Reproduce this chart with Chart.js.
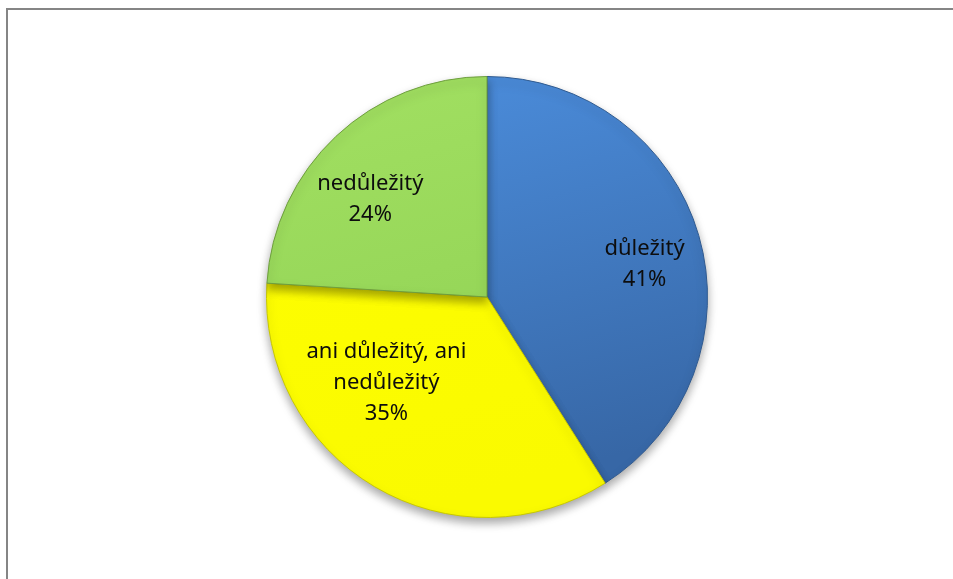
<!DOCTYPE html>
<html>
<head>
<meta charset="utf-8">
<script src="https://cdn.jsdelivr.net/npm/chart.js@4.4.1/dist/chart.umd.min.js"></script>
<style>
  html, body { margin: 0; padding: 0; background: #fff; }
  #wrap { position: relative; width: 953px; height: 579px; overflow: hidden; }
  #frame { position: absolute; left: 6px; top: 8px; width: 960px; height: 600px;
           border-left: 2px solid #858585; border-top: 2px solid #858585; }
  canvas { position: absolute; left: 0; top: 0; }
</style>
</head>
<body>
<div id="wrap">
  <div id="frame"></div>
  <canvas id="pie" width="953" height="579"></canvas>
</div>
<script>
const categories = ['důležitý', 'ani důležitý, ani nedůležitý', 'nedůležitý'];
const labelLines = [['důležitý'], ['ani důležitý, ani', 'nedůležitý'], ['nedůležitý']];
const shares = [41, 35, 24];

// light / dark tone for each slice
const lightColors = ['#4d90e0', '#ffff00', '#a2e062'];
const darkColors = ['#3767a6', '#fafa00', '#8ed052'];
const edgeColors = ['#2f5a90', '#c8c800', '#6e9e3e'];

// where the label sits: angle inside the slice (0..1) and distance from the centre (part of radius)
const labelSpots = [
    { along: 0.53, dist: 0.73 },
    { along: 0.65, dist: 0.60 },
    { along: 0.42, dist: 0.69 },
];

function sliceFill(context) {
    const chart = context.chart;
    const area = chart.chartArea;
    if (!area) return lightColors[context.dataIndex];
    const g = chart.ctx.createLinearGradient(area.left, area.top, area.left + 120, area.bottom);
    g.addColorStop(0, lightColors[context.dataIndex]);
    g.addColorStop(1, darkColors[context.dataIndex]);
    return g;
}

const shadowPlugin = {
    id: 'pieShadow',
    beforeDatasetDraw(chart) {
        const ctx = chart.ctx;
        ctx.save();
        ctx.shadowColor = 'rgba(0,0,0,0.35)';
        ctx.shadowBlur = 10;
        ctx.shadowOffsetY = 5;
    },
    afterDatasetDraw(chart) {
        chart.ctx.restore();
    }
};

const sliceLabels = {
    id: 'sliceLabels',
    afterDatasetsDraw(chart) {
        const ctx = chart.ctx;
        const arcs = chart.getDatasetMeta(0).data;
        ctx.save();
        ctx.font = '22px "Noto Sans", "Open Sans", sans-serif';
        ctx.fillStyle = '#0d0d0d';
        ctx.textAlign = 'center';
        ctx.textBaseline = 'middle';
        arcs.forEach((arc, i) => {
            const spot = labelSpots[i];
            const angle = arc.startAngle + (arc.endAngle - arc.startAngle) * spot.along;
            const r = arc.outerRadius * spot.dist;
            const cx = arc.x + Math.cos(angle) * r;
            const cy = arc.y + Math.sin(angle) * r;
            const lines = labelLines[i].concat([shares[i] + '%']);
            const lineH = 31;
            lines.forEach((line, k) => {
                ctx.fillText(line, cx, cy + (k - (lines.length - 1) / 2) * lineH);
            });
        });
        ctx.restore();
    }
};

new Chart(document.getElementById('pie'), {
    type: 'pie',
    data: {
        labels: categories,
        datasets: [{
            data: shares,
            backgroundColor: sliceFill,
            borderColor: edgeColors,
            borderWidth: 1,
        }]
    },
    options: {
        responsive: false,
        animation: false,
        layout: { padding: { top: 76, bottom: 61, left: 266, right: 245 } },
        plugins: {
            legend: { display: false },
            tooltip: { enabled: false },
        }
    },
    plugins: [shadowPlugin, sliceLabels]
});
</script>
</body>
</html>
